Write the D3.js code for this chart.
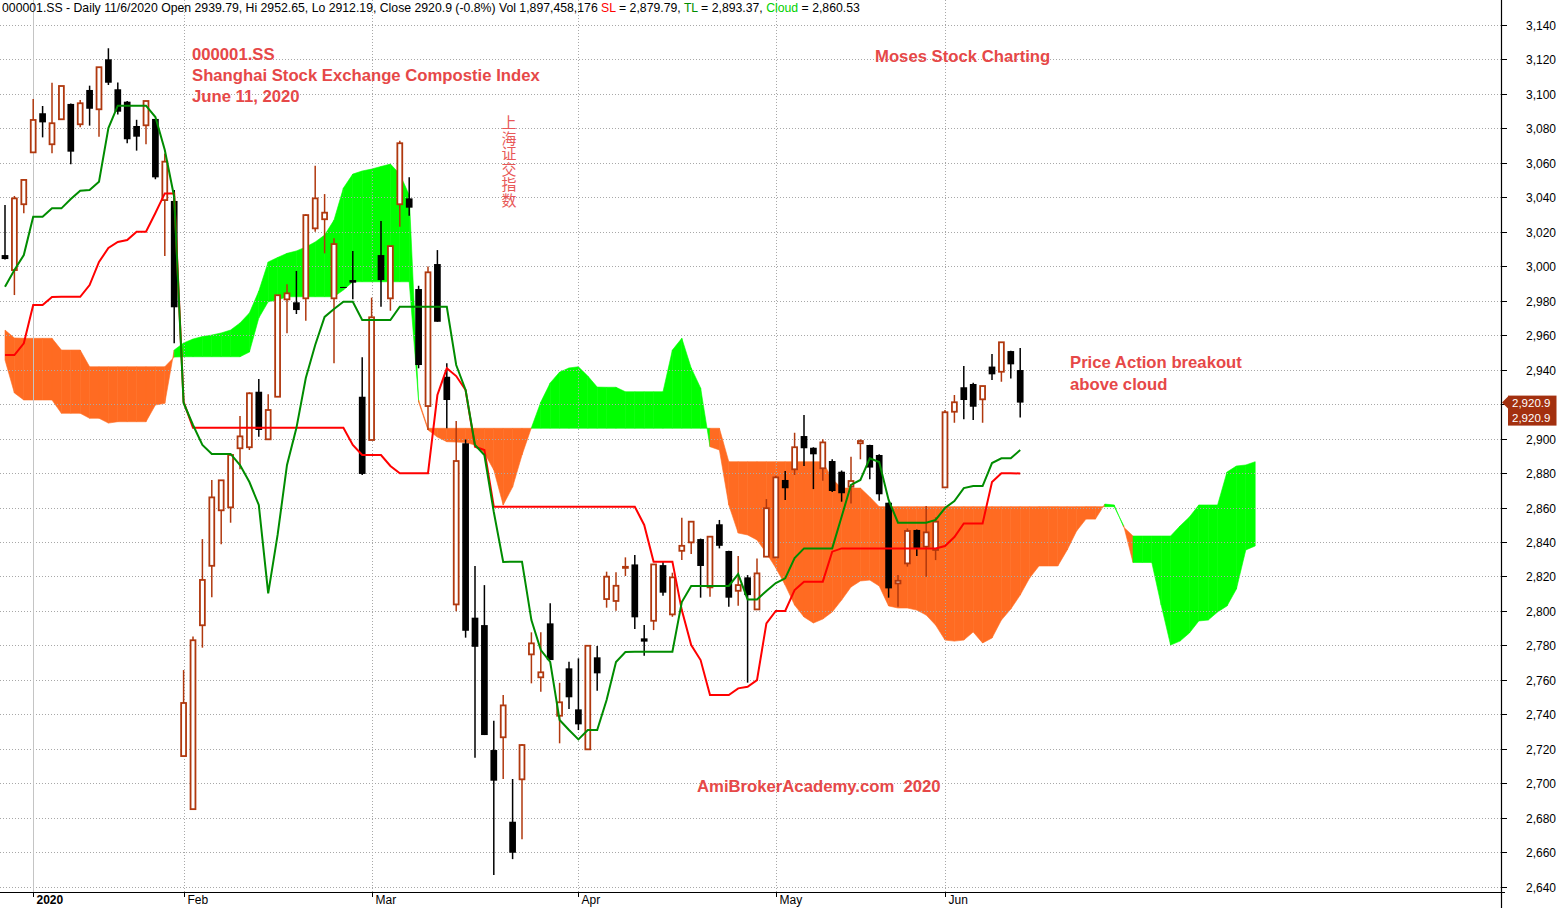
<!DOCTYPE html>
<html><head><meta charset="utf-8">
<script src="https://cdnjs.cloudflare.com/ajax/libs/d3/7.8.5/d3.min.js"></script>
<style>body{margin:0;background:#fff;}svg{display:block;}</style>
</head><body>
<svg id="c" width="1561" height="908"></svg>
<script>
// ---------------- DATA ----------------
const symbol = "000001.SS";
const dates = [
 "2019-12-27","2019-12-30","2019-12-31",
 "2020-01-02","2020-01-03","2020-01-06","2020-01-07","2020-01-08","2020-01-09","2020-01-10","2020-01-13","2020-01-14","2020-01-15","2020-01-16","2020-01-17","2020-01-20","2020-01-21","2020-01-22","2020-01-23",
 "2020-02-03","2020-02-04","2020-02-05","2020-02-06","2020-02-07","2020-02-10","2020-02-11","2020-02-12","2020-02-13","2020-02-14","2020-02-17","2020-02-18","2020-02-19","2020-02-20","2020-02-21","2020-02-24","2020-02-25","2020-02-26","2020-02-27","2020-02-28",
 "2020-03-02","2020-03-03","2020-03-04","2020-03-05","2020-03-06","2020-03-09","2020-03-10","2020-03-11","2020-03-12","2020-03-13","2020-03-16","2020-03-17","2020-03-18","2020-03-19","2020-03-20","2020-03-23","2020-03-24","2020-03-25","2020-03-26","2020-03-27","2020-03-30","2020-03-31",
 "2020-04-01","2020-04-02","2020-04-03","2020-04-07","2020-04-08","2020-04-09","2020-04-10","2020-04-13","2020-04-14","2020-04-15","2020-04-16","2020-04-17","2020-04-20","2020-04-21","2020-04-22","2020-04-23","2020-04-24","2020-04-27","2020-04-28","2020-04-29","2020-04-30",
 "2020-05-06","2020-05-07","2020-05-08","2020-05-11","2020-05-12","2020-05-13","2020-05-14","2020-05-15","2020-05-18","2020-05-19","2020-05-20","2020-05-21","2020-05-22","2020-05-25","2020-05-26","2020-05-27","2020-05-28","2020-05-29",
 "2020-06-01","2020-06-02","2020-06-03","2020-06-04","2020-06-05","2020-06-08","2020-06-09","2020-06-10","2020-06-11"];

const openP = [3006.5,2997.8,3036.0,3066.1,3088.8,3070.8,3085.3,3094.2,3082.4,3102.3,3091.1,3120.1,3102.7,3095.5,3081.4,3081.8,3085.5,3038.4,3037.9,
 2715.8,2685.0,2791.7,2826.2,2858.4,2860.1,2894.4,2895.0,2927.2,2899.6,2924.3,2980.8,2979.1,2981.4,3022.0,3027.3,2981.4,2988.0,2992.0,2924.3,
 2899.2,3006.5,2981.4,3036.0,3039.4,2986.8,2918.9,3001.3,2935.9,2803.8,2897.3,2796.1,2791.8,2719.3,2726.7,2677.7,2702.3,2774.8,2761.5,2792.8,2739.2,2766.7,
 2742.9,2719.7,2773.1,2806.9,2805.8,2825.0,2827.0,2784.1,2794.3,2826.6,2798.0,2834.9,2839.8,2841.7,2813.7,2850.3,2834.8,2811.7,2819.5,2800.9,2831.5,
 2831.1,2876.0,2882.2,2901.5,2894.7,2882.8,2887.0,2880.8,2872.1,2897.3,2896.3,2890.5,2862.8,2816.0,2827.6,2847.0,2837.3,2835.4,
 2871.7,2915.6,2929.8,2931.7,2922.8,2941.8,2938.8,2950.8,2939.79];
const highP = [3035.5,3040.8,3050.6,3097.1,3093.0,3106.5,3104.6,3094.5,3096.5,3104.8,3115.5,3126.5,3106.7,3095.9,3085.0,3096.0,3085.5,3065.5,3044.3,
 2765.7,2785.2,2841.7,2876.0,2875.8,2890.5,2913.1,2926.9,2934.6,2925.7,2983.2,2989.5,2997.3,3030.2,3058.4,3041.9,3016.2,2988.0,3008.9,2947.2,
 2981.8,3026.3,3011.7,3072.9,3051.6,2988.7,2999.8,3009.4,2943.7,2910.2,2899.5,2826.1,2815.0,2736.3,2751.2,2702.5,2722.8,2787.6,2787.6,2804.4,2758.3,2770.5,
 2772.5,2780.0,2779.6,2822.8,2822.4,2831.1,2832.4,2791.8,2827.0,2828.9,2822.2,2854.1,2851.8,2842.0,2843.1,2852.8,2835.0,2831.9,2820.8,2830.5,2864.9,
 2878.5,2881.2,2903.4,2913.7,2895.0,2899.6,2888.0,2881.5,2889.5,2899.6,2896.5,2891.0,2863.0,2820.8,2847.9,2847.2,2860.9,2854.3,
 2916.6,2925.3,2942.1,2932.4,2930.6,2949.1,2956.0,2951.0,2952.65];
const lowP = [3004.0,2983.3,3030.7,3066.1,3074.8,3065.6,3084.9,3059.2,3080.6,3081.6,3075.2,3105.2,3088.0,3071.4,3067.1,3070.8,3050.5,3005.9,2955.3,
 2715.8,2685.0,2778.7,2807.9,2838.7,2851.2,2882.2,2893.4,2901.1,2899.6,2924.3,2961.1,2972.3,2968.4,3020.1,3007.5,2943.7,2987.6,2980.8,2878.9,
 2899.2,2976.5,2974.2,3023.0,3029.3,2940.8,2905.0,2967.8,2906.0,2799.9,2784.5,2714.8,2728.0,2646.8,2702.5,2656.0,2667.5,2758.0,2753.1,2771.5,2723.2,2743.1,
 2730.9,2719.7,2753.7,2801.9,2800.1,2820.3,2789.5,2774.0,2788.9,2808.8,2796.6,2829.5,2833.0,2807.7,2808.3,2836.3,2802.5,2803.0,2758.4,2800.9,2831.5,
 2831.1,2864.4,2878.9,2884.1,2870.7,2875.6,2869.0,2863.4,2862.4,2888.0,2876.4,2864.0,2807.7,2802.5,2825.7,2831.9,2819.9,2829.5,
 2871.7,2909.2,2911.2,2910.8,2909.2,2934.0,2933.0,2934.9,2912.19];
const closeP = [3004.2,3039.4,3050.1,3084.9,3083.5,3083.0,3104.6,3066.5,3094.6,3091.4,3115.5,3106.5,3089.7,3073.7,3075.2,3095.9,3051.6,3060.7,2976.2,
 2746.6,2783.0,2818.0,2865.9,2875.8,2890.5,2901.3,2926.3,2905.0,2916.6,2983.2,2984.3,2974.6,3029.7,3039.4,3031.1,3012.9,2987.6,2990.5,2879.5,
 2970.4,2992.0,3011.7,3071.4,3034.0,2942.7,2996.5,2967.8,2922.4,2887.0,2788.5,2779.2,2728.0,2701.5,2745.2,2659.7,2722.2,2781.2,2764.4,2771.5,2747.0,2749.9,
 2734.2,2779.8,2763.8,2819.9,2814.6,2825.6,2796.3,2782.2,2827.0,2810.6,2819.5,2837.8,2851.8,2826.1,2843.1,2837.8,2807.7,2815.0,2809.2,2821.8,2859.6,
 2877.5,2871.2,2895.0,2894.4,2890.9,2897.8,2869.6,2868.3,2875.4,2898.6,2883.2,2867.7,2813.1,2817.5,2846.4,2836.0,2845.6,2851.8,
 2915.3,2921.1,2922.4,2918.5,2930.5,2937.3,2955.9,2943.1,2920.9];
const volumeLast = 1897458176;

// TL (green) and SL (red) lines, one value per bar
const tlLine = [2988.1,2997.8,3006.5,3028.8,3028.8,3033.6,3033.6,3039.0,3043.8,3044.3,3049.1,3080.2,3093.2,3093.2,3093.2,3093.2,3086.6,3067.5,3040.2,
 2920.7,2907.9,2896.3,2891.1,2891.1,2891.1,2884.7,2874.8,2861.5,2810.2,2844.1,2884.7,2906.1,2935.2,2954.3,2970.6,2975.2,2979.4,2979.4,2968.8,
 2968.8,2968.8,2968.8,2976.5,2976.5,2976.5,2976.5,2976.5,2976.5,2942.7,2928.2,2896.3,2890.5,2857.4,2828.4,2828.6,2828.6,2794.7,2777.3,2770.4,2736.7,2730.9,
 2725.5,2730.9,2730.9,2748.3,2770.4,2776.2,2776.3,2776.3,2776.3,2776.3,2776.3,2805.2,2814.5,2814.5,2814.5,2814.5,2814.5,2821.4,2806.7,2806.7,2811.6,
 2816.2,2818.9,2830.7,2836.3,2836.3,2836.3,2836.3,2854.7,2873.1,2876.0,2888.6,2886.4,2864.4,2851.2,2851.2,2851.2,2851.2,2852.8,
 2859.7,2863.8,2871.3,2872.5,2872.5,2885.8,2888.6,2888.6,2893.37];
const slLine = [2948.5,2948.5,2955.3,2977.5,2977.5,2982.2,2982.3,2982.3,2982.3,2989.1,3002.5,3010.6,3014.1,3015.2,3020.1,3020.1,3030.9,3042.3,3042.3,
 2921.4,2906.3,2906.3,2906.3,2906.3,2906.3,2906.3,2906.3,2906.3,2906.3,2906.3,2906.3,2906.3,2906.3,2906.3,2906.3,2906.3,2906.3,2896.3,2890.5,
 2890.5,2890.5,2884.1,2879.9,2879.9,2879.9,2879.9,2925.3,2940.8,2936.3,2928.2,2895.3,2893.4,2860.5,2860.5,2860.5,2860.5,2860.5,2860.5,2860.5,2860.5,2860.5,
 2860.5,2860.5,2860.5,2860.5,2860.5,2860.5,2860.5,2849.9,2828.6,2828.6,2828.6,2800.5,2780.2,2771.5,2751.2,2751.2,2751.2,2755.1,2756.0,2759.9,2792.8,
 2800.0,2800.0,2812.1,2817.0,2817.0,2817.0,2834.4,2836.3,2836.3,2836.3,2836.3,2836.3,2836.3,2836.3,2836.3,2836.3,2836.3,2836.3,
 2837.7,2842.9,2850.8,2850.8,2850.8,2874.8,2879.9,2879.9,2879.79];

// Cloud spans, one value per bar (extends 25 bars past the last candle)
const spanA = [2945.6,2926.5,2922.4,2922.4,2922.4,2922.4,2914.7,2914.7,2914.7,2911.8,2911.8,2909.0,2909.8,2909.8,2909.8,2909.8,2919.5,2920.5,2951.4,
 2955.5,2957.8,2959.2,2960.1,2961.3,2963.0,2967.1,2972.9,2985.6,3002.5,3005.1,3007.5,3008.9,3011.2,3014.1,3018.1,3026.8,3045.4,3053.5,3055.3,
 3056.4,3057.9,3059.3,3053.5,3041.4,2921.2,2905.0,2900.9,2898.2,2898.0,2897.7,2896.3,2891.6,2881.8,2861.5,2871.9,2890.5,2906.3,2921.2,2932.3,2938.6,2941.0,
 2941.7,2936.3,2929.9,2929.8,2929.8,2927.2,2927.2,2927.2,2927.2,2927.2,2951.4,2958.2,2941.0,2929.4,2895.3,2893.4,2861.5,2845.2,2844.1,2841.2,2833.6,
 2824.9,2815.0,2803.4,2796.5,2793.0,2795.3,2799.4,2806.3,2813.9,2817.4,2817.9,2814.5,2802.9,2801.7,2801.7,2800.5,2797.6,2791.8,
 2783.1,2782.5,2783.1,2787.8,2781.4,2784.3,2794.7,2801.1,2809.2,
 2819.1,2826.1,2826.1,2826.1,2835.4,2846.4,2853.3,2853.3,2862.0,2861.5,2848.7,2843.5,2843.5,2843.5,2843.5,2843.5,2849.3,2854.5,2861.5,2861.5,2861.5,2880.6,2884.1,2884.7,2886.6];
const spanB = [2963.0,2958.4,2958.2,2958.2,2958.2,2958.2,2951.4,2951.4,2951.4,2941.7,2941.7,2941.7,2941.7,2941.7,2941.7,2941.7,2941.7,2941.7,2947.3,
 2947.5,2947.5,2947.5,2947.5,2947.5,2947.5,2947.5,2950.2,2970.0,2979.4,2980.4,2982.3,2982.3,2982.3,2982.3,2982.3,2982.3,2986.2,2991.0,2991.0,
 2991.0,2991.0,2991.0,2991.0,2991.0,2922.4,2906.0,2906.0,2906.0,2906.0,2906.0,2906.0,2906.0,2906.0,2906.0,2906.0,2906.0,2906.0,2906.0,2906.0,2906.0,2906.0,
 2906.0,2906.0,2906.0,2906.0,2906.0,2906.0,2906.0,2906.0,2906.0,2906.0,2906.0,2906.0,2906.0,2906.0,2906.0,2906.0,2886.6,2886.6,2886.6,2886.6,2886.6,
 2886.6,2886.6,2886.6,2886.6,2886.6,2886.6,2876.6,2871.3,2871.3,2871.3,2866.1,2860.53,2860.53,2860.53,2860.53,2860.53,2860.53,2860.53,
 2860.53,2860.53,2860.53,2860.53,2860.53,2860.53,2860.53,2860.53,2860.53,
 2860.53,2860.53,2860.53,2860.53,2860.53,2860.53,2860.53,2860.53,2860.53,2860.53,2849.6,2828.1,2828.1,2828.1,2803.4,2780.2,2782.5,2787.2,2794.2,2794.7,2799.4,2802.9,2812.7,2835.4,2837.7];

const priceTicks = [2640,2660,2680,2700,2720,2740,2760,2780,2800,2820,2840,2860,2880,2900,2920,2940,2960,2980,3000,3020,3040,3060,3080,3100,3120,3140];
const monthNames = ["Jan","Feb","Mar","Apr","May","Jun","Jul","Aug","Sep","Oct","Nov","Dec"];

const titleLines = ["000001.SS","Shanghai Stock Exchange Compostie Index","June 11, 2020"];
const cnTitle = "上海证交指数";
const brandText = "Moses Stock Charting";
const noteLines = ["Price Action breakout","above cloud"];
const footerText = "AmiBrokerAcademy.com\u00a0\u00a02020";

// ---------------- DRAW ----------------
const FONT = "'Liberation Sans', Arial, Helvetica, sans-serif";
const plotR = 1501, plotB = 892;
const GREEN_CLOUD = "#00ff00", ORANGE_CLOUD = "#ff6b22";
const UP = "#b0380e", RED_TXT = "#e64848";
const svg = d3.select("#c");

const x = d3.scaleLinear().domain([-5/9.4, 1496/9.4]).range([0, plotR]);
const y = d3.scaleLinear().domain([2640, 3140]).range([886.7, 25]);

svg.append("rect").attr("width",1561).attr("height",908).attr("fill","#fff");

// cloud
const gCloud = svg.append("g");
const poly = d3.line();
for (let i = 0; i < spanA.length - 1; i++) {
  const bull = spanA[i] > spanB[i];
  const col = bull ? GREEN_CLOUD : ORANGE_CLOUD;
  const pts = [[x(i), y(spanA[i])],[x(i+1), y(spanA[i+1])],[x(i+1), y(spanB[i+1])],[x(i), y(spanB[i])]];
  gCloud.append("path").attr("d", poly(pts) + "Z").attr("fill", col)
    .attr("stroke", col).attr("stroke-width", 0.6).attr("stroke-linejoin","round");
}

// horizontal grid
const gGrid = svg.append("g");
priceTicks.forEach(v => {
  const yy = Math.round(y(v)) + 0.5;
  gGrid.append("line").attr("x1",0).attr("x2",plotR).attr("y1",yy).attr("y2",yy)
    .attr("stroke","#a8a8a8").attr("stroke-width",1).attr("stroke-dasharray","1,2");
});

// month boundaries from dates
const monthStarts = [];
for (let i = 1; i < dates.length; i++) {
  const a = dates[i-1].slice(0,7), b = dates[i].slice(0,7);
  if (a !== b) {
    const yearChange = dates[i-1].slice(0,4) !== dates[i].slice(0,4);
    monthStarts.push({i, label: yearChange ? dates[i].slice(0,4) : monthNames[+dates[i].slice(5,7)-1], year: yearChange});
  }
}
monthStarts.forEach(m => {
  const xx = Math.round(x(m.i)) + 0.5;
  const ln = gGrid.append("line").attr("x1",xx).attr("x2",xx).attr("y1",0).attr("y2",plotB);
  if (m.year) ln.attr("stroke","#c4c4c4").attr("stroke-width",1);
  else ln.attr("stroke","#a8a8a8").attr("stroke-width",1).attr("stroke-dasharray","1,2");
});

// candles
const gC = svg.append("g");
dates.forEach((d, i) => {
  const o = openP[i], h = highP[i], l = lowP[i], c = closeP[i];
  const up = c >= o;
  const cx = x(i);
  gC.append("line").attr("x1",cx).attr("x2",cx).attr("y1",y(h)).attr("y2",y(l))
    .attr("stroke", up ? UP : "#000").attr("stroke-width",1.5);
  const top = y(Math.max(o,c)), bot = y(Math.min(o,c));
  const hgt = Math.max(1, bot - top);
  if (up) {
    gC.append("rect").attr("x",cx-2.45).attr("y",top).attr("width",4.9).attr("height",hgt)
      .attr("fill","#fff").attr("stroke",UP).attr("stroke-width",1.8);
  } else {
    gC.append("rect").attr("x",cx-3.35).attr("y",top).attr("width",6.7).attr("height",hgt)
      .attr("fill","#000");
  }
});

// indicator lines
const lineGen = d3.line().x((d,i) => x(i)).y(d => y(d));
svg.append("path").attr("d", lineGen(slLine)).attr("fill","none").attr("stroke","#ff0000").attr("stroke-width",2);
svg.append("path").attr("d", lineGen(tlLine)).attr("fill","none").attr("stroke","#008c00").attr("stroke-width",2);

// axes
const n = closeP.length;
const lastY = y(closeP[n-1]);
svg.append("line").attr("x1",0).attr("x2",plotR+4).attr("y1",plotB+0.5).attr("y2",plotB+0.5).attr("stroke","#000").attr("stroke-width",1.2);
svg.append("line").attr("x1",plotR+0.5).attr("x2",plotR+0.5).attr("y1",0).attr("y2",908).attr("stroke","#000").attr("stroke-width",1.2);
priceTicks.forEach(v => {
  const yy = Math.round(y(v)) + 0.5;
  svg.append("line").attr("x1",plotR).attr("x2",plotR+6).attr("y1",yy).attr("y2",yy).attr("stroke","#000");
  // labels hidden under the last-price box are not shown
  if (yy > lastY - 12 && yy < lastY + 30) return;
  svg.append("text").attr("x",1556).attr("y",yy).attr("dy","0.36em").attr("text-anchor","end")
    .attr("font-family",FONT).attr("font-size",12).attr("fill","#000").text(d3.format(",")(v));
});
monthStarts.forEach(m => {
  const xx = Math.round(x(m.i)) + 0.5;
  svg.append("line").attr("x1",xx).attr("x2",xx).attr("y1",plotB).attr("y2",plotB+5).attr("stroke","#000");
  svg.append("text").attr("x",xx+3).attr("y",903.5).attr("font-family",FONT).attr("font-size",12)
    .attr("font-weight", m.year ? "bold" : "normal").attr("fill","#000").text(m.label);
});

// last price box
const box = svg.append("g");
box.append("path").attr("d",`M${plotR+1},${lastY} L${plotR+7},${lastY-6} L${plotR+7},${lastY+6} Z`).attr("fill","#a3300f");
box.append("rect").attr("x",plotR+7).attr("y",lastY-7).attr("width",48.5).attr("height",30).attr("fill","#a3300f");
[0,1].forEach(k => box.append("text").attr("x",1512).attr("y",lastY+4.2+k*15).attr("font-family",FONT)
  .attr("font-size",11.5).attr("fill","#fff").text(d3.format(",.1f")(closeP[n-1])));

// header
const pct = ((closeP[n-1]/closeP[n-2]-1)*100).toFixed(1);
const hdr = svg.append("text").attr("x",2).attr("y",12).attr("font-family",FONT).attr("font-size",12.25).attr("fill","#000");
hdr.append("tspan").text(`${symbol} - Daily 11/6/2020 Open ${openP[n-1]}, Hi ${highP[n-1]}, Lo ${lowP[n-1]}, Close ${closeP[n-1]} (${pct}%) Vol ${d3.format(",")(volumeLast)} `);
hdr.append("tspan").attr("fill","#ff0000").text("SL");
hdr.append("tspan").text(` = ${d3.format(",.2f")(slLine[n-1])}, `);
hdr.append("tspan").attr("fill","#008c00").text("TL");
hdr.append("tspan").text(` = ${d3.format(",.2f")(tlLine[n-1])}, `);
hdr.append("tspan").attr("fill","#00d000").text("Cloud");
hdr.append("tspan").text(` = ${d3.format(",.2f")(spanB[n-1])}`);

// annotations
const redText = (t, xx, yy) => svg.append("text").attr("x",xx).attr("y",yy).attr("font-family",FONT)
  .attr("font-size",16.7).attr("font-weight","bold").attr("fill",RED_TXT).text(t);
titleLines.forEach((t,k) => redText(t, 192, 60 + k*21));
redText(brandText, 875, 62);
noteLines.forEach((t,k) => redText(t, 1070, 368 + k*21.5));
redText(footerText, 697, 792);
svg.append("text").attr("x",509).attr("y",115)
  .attr("style","writing-mode: vertical-rl; text-orientation: upright;")
  .attr("letter-spacing",0.5)
  .attr("font-family","'Noto Sans CJK SC', sans-serif").attr("font-size",15)
  .attr("fill","#e85858").text(cnTitle);
</script>
</body></html>
